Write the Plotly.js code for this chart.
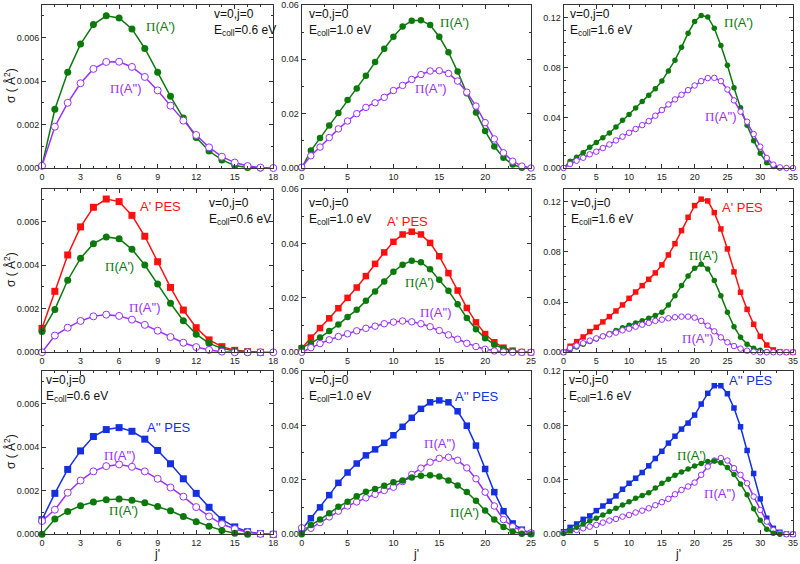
<!DOCTYPE html>
<html><head><meta charset="utf-8">
<script src="https://cdn.plot.ly/plotly-3.0.1.min.js"></script>
<style>body{margin:0;padding:0;background:#fff}#c{width:800px;height:564px}</style>
</head><body><div id="c"></div>
<script>
// ---- data (j' = rotational quantum number, sigma in Å^2) ----
// Row 1: total Π(A') and Π(A'')
const r1c1_PiAp  = [0.0001,0.0027,0.0044,0.0057,0.0066,0.0070,0.0069,0.0064,0.0055,0.0044,0.0033,0.0023,0.0014,0.00078,0.00037,0.00011,0.00002,0];
const r1c1_PiApp = [0.0001,0.0019,0.0030,0.0039,0.00456,0.00488,0.00489,0.00465,0.00419,0.00357,0.00287,0.00218,0.00152,0.00095,0.00052,0.00025,0.00009,0.00002,0];
const r1c2_PiAp  = [0,0.0064,0.0110,0.0156,0.0202,0.0250,0.0293,0.0340,0.0390,0.0439,0.0483,0.0521,0.0542,0.0544,0.0526,0.0483,0.0426,0.0355,0.0275,0.0204,0.0136,0.0079,0.0038,0.0013,0.0001];
const r1c2_PiApp = [0.0003,0.0045,0.0077,0.0112,0.0144,0.0173,0.0200,0.0223,0.0240,0.0260,0.0285,0.0304,0.0326,0.0344,0.0357,0.0358,0.0348,0.0320,0.0279,0.0228,0.0167,0.0107,0.0056,0.0025,0.0007,0];
const r1c3_PiAp  = [0,0.0053,0.0085,0.0122,0.0165,0.0204,0.0242,0.0279,0.0327,0.0380,0.0427,0.0478,0.0531,0.0581,0.0632,0.0693,0.0773,0.0860,0.0964,0.1075,0.1168,0.1216,0.1205,0.1115,0.0977,0.0820,0.0640,0.0480,0.0340,0.0218,0.0117,0.0042,0.0011,0];
const r1c3_PiApp = [0,0.0032,0.0058,0.0082,0.0109,0.0130,0.0159,0.0188,0.0220,0.0250,0.0281,0.0311,0.0342,0.0374,0.0417,0.0462,0.0507,0.0547,0.0584,0.0621,0.0658,0.0693,0.0717,0.0719,0.0693,0.0626,0.0539,0.0449,0.0369,0.0271,0.0170,0.0080,0.0027,0.0005,0,0];
// Row 2: A' PES and its Π(A') / Π(A'') parts
const r2c1_ApPES = [0.0011,0.0028,0.00447,0.00576,0.00666,0.00704,0.00692,0.00629,0.00533,0.00416,0.00298,0.00194,0.00113,0.00057,0.00026,0.00009,0.00003,0];
const r2c1_PiAp  = [0.00095,0.00197,0.00331,0.00432,0.00499,0.0053,0.00522,0.00473,0.00401,0.00314,0.00225,0.00145,0.00083,0.00041,0.00018,0.00006,0.00002,0];
const r2c1_PiApp = [0,0.00077,0.00113,0.00144,0.00165,0.00173,0.00167,0.0015,0.00126,0.00099,0.0007,0.00044,0.00024,0.00011,0.00003,0,0,0,0];
const r2c2_ApPES = [0.0015,0.0054,0.0089,0.0125,0.0162,0.0200,0.0238,0.0280,0.0325,0.0367,0.0406,0.0433,0.0443,0.0433,0.0402,0.0353,0.0291,0.0227,0.0163,0.0110,0.0067,0.0037,0.0017,0.0006,0.0001,0];
const r2c2_PiAp  = [0.0017,0.0033,0.0054,0.0078,0.0102,0.0130,0.0156,0.0189,0.0223,0.0260,0.0296,0.0322,0.0336,0.0331,0.0305,0.0267,0.0226,0.0177,0.0126,0.0085,0.0052,0.0028,0.0014,0.0005,0.0001];
const r2c2_PiApp = [0,0.0017,0.0032,0.0046,0.0058,0.0068,0.0079,0.0088,0.0096,0.0105,0.0111,0.0115,0.0112,0.0105,0.0094,0.0080,0.0064,0.0048,0.0033,0.0021,0.0011,0.0005,0.0001,0,0,0];
const r2c3_ApPES = [0,0.0048,0.0085,0.0122,0.0165,0.0199,0.0242,0.0284,0.0329,0.0377,0.0430,0.0480,0.0531,0.0581,0.0632,0.0696,0.0775,0.0865,0.0969,0.1075,0.1168,0.1219,0.1205,0.1112,0.0982,0.0823,0.0640,0.0478,0.0342,0.0223,0.0127,0.0058,0.0019,0.0005,0,0];
const r2c3_PiAp  = [0,0.0021,0.0042,0.0064,0.0085,0.0106,0.0127,0.0149,0.0173,0.0196,0.0215,0.0234,0.0252,0.0271,0.0292,0.0319,0.0377,0.0451,0.0531,0.0608,0.0669,0.0701,0.0664,0.0571,0.0451,0.0319,0.0204,0.0119,0.0064,0.0032,0.0016,0.0005,0];
const r2c3_PiApp = [0,0.0035,0.0053,0.0072,0.0093,0.0111,0.0127,0.0143,0.0157,0.0175,0.0188,0.0204,0.0220,0.0234,0.0250,0.0260,0.0271,0.0279,0.0284,0.0284,0.0276,0.0250,0.0212,0.0167,0.0119,0.0080,0.0050,0.0029,0.0013,0.0005,0,0,0,0,0,0];
// Row 3: A'' PES and its Π(A'') / Π(A') parts
const r3c1_AppPES = [0.00067,0.00188,0.00298,0.00383,0.00449,0.00481,0.0049,0.00473,0.00437,0.00385,0.00324,0.00255,0.00188,0.00124,0.00067,0.00034,0.00012,0.00003,0];
const r3c1_PiApp  = [0.00061,0.00113,0.00191,0.00247,0.00289,0.00313,0.00321,0.0031,0.00289,0.00255,0.00215,0.00173,0.00125,0.00082,0.00047,0.00024,0.00009,0.00002,0];
const r3c1_PiAp   = [0,0.0007,0.00105,0.00131,0.00148,0.00159,0.00162,0.00156,0.00145,0.00128,0.00108,0.00082,0.00058,0.00037,0.00018,0.00005,0];
const r3c2_AppPES = [0.0017,0.0059,0.0099,0.0144,0.0189,0.0227,0.0260,0.0290,0.0312,0.0336,0.0364,0.0395,0.0428,0.0461,0.0485,0.0492,0.0485,0.0452,0.0399,0.0326,0.0240,0.0155,0.0085,0.0040,0.0017,0.0004];
const r3c2_PiApp  = [0.0024,0.0022,0.0043,0.0064,0.0085,0.0104,0.0119,0.0134,0.0147,0.0161,0.0173,0.0194,0.0220,0.0243,0.0265,0.0279,0.0283,0.0272,0.0244,0.0204,0.0155,0.0104,0.0054,0.0028,0.0013,0.0005];
const r3c2_PiAp   = [0,0.0034,0.0054,0.0077,0.0101,0.0120,0.0140,0.0156,0.0166,0.0178,0.0191,0.0198,0.0209,0.0215,0.0217,0.0212,0.0198,0.0179,0.0155,0.0123,0.0087,0.0054,0.0027,0.0010,0.0002,0];
const r3c3_AppPES = [0.0019,0.0051,0.0076,0.0110,0.0135,0.0174,0.0208,0.0243,0.0282,0.0331,0.0375,0.0412,0.0454,0.0503,0.0557,0.0610,0.0670,0.0721,0.0773,0.0817,0.0876,0.0957,0.1036,0.1092,0.1092,0.1033,0.0928,0.0790,0.0616,0.0447,0.0260,0.0118,0.0044,0.0015,0.0002,0];
const r3c3_PiAp   = [0.0005,0.0027,0.0051,0.0076,0.0098,0.0118,0.0142,0.0167,0.0191,0.0216,0.0240,0.0265,0.0285,0.0305,0.0340,0.0375,0.0405,0.0434,0.0458,0.0480,0.0502,0.0521,0.0535,0.0538,0.0525,0.0490,0.0440,0.0370,0.0290,0.0187,0.0103,0.0038,0.0008,0];
const r3c3_PiApp  = [0.0012,0.0019,0.0032,0.0044,0.0056,0.0069,0.0086,0.0101,0.0113,0.0130,0.0142,0.0160,0.0174,0.0191,0.0214,0.0236,0.0260,0.0294,0.0326,0.0351,0.0380,0.0437,0.0498,0.0542,0.0560,0.0542,0.0486,0.0437,0.0375,0.0277,0.0179,0.0093,0.0032,0.0007,0,0];

const energies = ['0.6','1.0','1.6'];
const xMax   = [18, 25, 35];
const xDtick = [3, 5, 5];
const yMax   = [[0.0075,0.06,0.13],[0.0075,0.06,0.13],[0.0075,0.06,0.12]];
const yDtick = [0.002, 0.02, 0.04];
const yFmt   = ['.3f','.2f','.2f'];

// ---- styles ----
const GREEN='#0b7a0b', PURPLE='#9b30ff', RED='#ff1010', BLUE='#1530e0';
const SANS='Liberation Sans, Arial, sans-serif';
const PI='<span style="font-family:Liberation Serif">Π</span>';

const panels = [
  [ [r1c1_PiAp,'g'],[r1c1_PiApp,'p'] ],
  [ [r1c2_PiAp,'g'],[r1c2_PiApp,'p'] ],
  [ [r1c3_PiAp,'g'],[r1c3_PiApp,'p'] ],
  [ [r2c1_ApPES,'r'],[r2c1_PiAp,'g'],[r2c1_PiApp,'p'] ],
  [ [r2c2_ApPES,'r'],[r2c2_PiAp,'g'],[r2c2_PiApp,'p'] ],
  [ [r2c3_ApPES,'r'],[r2c3_PiAp,'g'],[r2c3_PiApp,'p'] ],
  [ [r3c1_AppPES,'b'],[r3c1_PiApp,'p'],[r3c1_PiAp,'g'] ],
  [ [r3c2_AppPES,'b'],[r3c2_PiApp,'p'],[r3c2_PiAp,'g'] ],
  [ [r3c3_AppPES,'b'],[r3c3_PiApp,'p'],[r3c3_PiAp,'g'] ]
];

const W=800,H=564;
const colPx=[[42,273.3],[301.7,531],[563.5,793]];
const rowPx=[[5,168],[189,352.3],[371,534.3]];
const px=x=>x/W, py=y=>1-y/H;

const data=[], layout={
  width:W,height:H,margin:{l:0,r:0,t:0,b:0},
  paper_bgcolor:'#fff',plot_bgcolor:'#fff',showlegend:false,
  font:{family:SANS,size:9,color:'#222'},
  annotations:[]
};

panels.forEach((series,k)=>{
  const row=Math.floor(k/3), col=k%3, n=k+1;
  const xa='x'+(n===1?'':n), ya='y'+(n===1?'':n);
  const msize=[7,6.5,5.5][col];
  series.forEach(([vals,kind])=>{
    const xs=vals.map((_,i)=>i);
    const color={g:GREEN,p:PURPLE,r:RED,b:BLUE}[kind];
    const marker = kind==='p'
      ? {symbol:'circle',size:msize,color:'#fff',line:{color:color,width:1}}
      : {symbol:(kind==='g'?'circle':'square'),size:msize,color:color,line:{width:0}};
    data.push({x:xs,y:vals,xaxis:xa,yaxis:ya,type:'scatter',mode:'lines+markers',
      line:{color:color,width:1.5},marker:marker,cliponaxis:false});
  });
  const axCommon={showline:true,linecolor:'#333',linewidth:1,mirror:'allticks',
    ticks:'inside',ticklen:4,tickwidth:1,tickcolor:'#333',showgrid:false,zeroline:false,
    tickfont:{family:SANS,size:9,color:'#222'}};
  layout['xaxis'+(n===1?'':n)]=Object.assign({},axCommon,{
    domain:[px(colPx[col][0]),px(colPx[col][1])],anchor:ya,
    range:[0,xMax[col]],dtick:xDtick[col],tick0:0,
    minor:{dtick:(col===0?1:2.5),ticklen:2,tickcolor:'#333',ticks:'inside'}
  });
  layout['yaxis'+(n===1?'':n)]=Object.assign({},axCommon,{
    domain:[py(rowPx[row][1]),py(rowPx[row][0])],anchor:xa,
    range:[0,yMax[row][col]],dtick:yDtick[col],tick0:0,tickformat:yFmt[col],
    minor:{dtick:(col===0?0.001:0.01),ticklen:2,tickcolor:'#333',ticks:'inside'}
  });
});

// ---- text annotations ----
function ann(text,x,y,color,size,xanchor,extra){
  layout.annotations.push(Object.assign({text:text,xref:'paper',yref:'paper',x:px(x),y:py(y),
    xanchor:xanchor||'left',yanchor:'middle',showarrow:false,align:'left',
    font:{family:SANS,size:size||12,color:color||'#111'}},extra||{}));
}
const condPos=[[212,23],[307,23],[568,23],[207,211],[307,211],[569,211],[44,388],[307,388],[567,388]];
condPos.forEach(([x,y],k)=>{
  ann('v=0,j=0<br>E<sub>coll</sub>='+energies[k%3]+' eV',x,y,'#111',12,'left');
});
const labels=[
  [PI+"(A')",144,26,GREEN],[PI+"(A'')",108,88,PURPLE],
  [PI+"(A')",438,23,GREEN],[PI+"(A'')",413,89,PURPLE],
  [PI+"(A')",722,23,GREEN],[PI+"(A'')",703,117,PURPLE],
  ["A' PES",138,206,RED],[PI+"(A')",103,267,GREEN],[PI+"(A'')",127,307,PURPLE],
  ["A' PES",385,222,RED],[PI+"(A')",403,282,GREEN],[PI+"(A'')",418,312,PURPLE],
  ["A' PES",720,207,RED],[PI+"(A')",687,255,GREEN],[PI+"(A'')",680,338,PURPLE],
  ["A'' PES",145,427,BLUE],[PI+"(A'')",102,455,PURPLE],[PI+"(A')",107,510,GREEN],
  ["A'' PES",453,396,BLUE],[PI+"(A'')",422,443,PURPLE],[PI+"(A')",448,512,GREEN],
  ["A'' PES",727,381,BLUE],[PI+"(A')",675,455,GREEN],[PI+"(A'')",702,493,PURPLE]
];
labels.forEach(([t,x,y,c])=>ann(t,x,y,c,13,'left'));
// axis titles
[86,270,452].forEach(y=>ann('σ ( Å<sup>2</sup>)',10,y,'#111',12,'center',{textangle:-90}));
[157,416,678].forEach(x=>ann("j'",x,554,'#111',12,'center'));

Plotly.newPlot('c',data,layout,{staticPlot:true,displayModeBar:false});
</script></body></html>
